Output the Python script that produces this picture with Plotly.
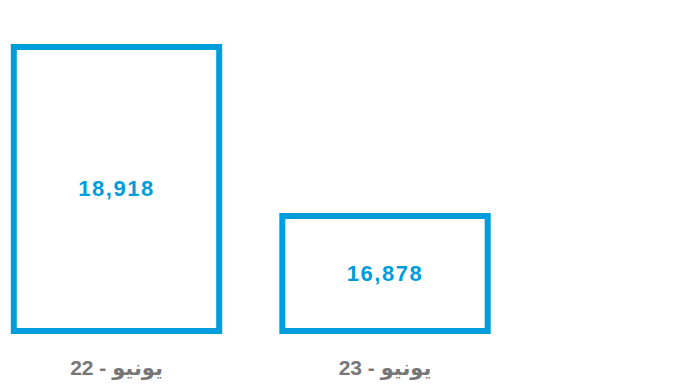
import plotly.graph_objects as go

# Monthly totals, June of each year
categories = ["يونيو - 22", "يونيو - 23"]
values = [18918, 16878]
axis_floor = 15490  # bars rise from this value rather than zero

BLUE = "#009ddc"
GRAY = "#777777"

fig = go.Figure(
    go.Bar(
        x=categories,
        y=[v - axis_floor for v in values],
        base=axis_floor,
        width=0.765,
        marker=dict(color="white", line=dict(color=BLUE, width=6)),
        text=[f"{v:,}" for v in values],
        textposition="inside",
        insidetextanchor="middle",
        textangle=0,
        constraintext="none",
        textfont=dict(family="Liberation Sans, Arial, sans-serif", size=22,
                      color=BLUE, weight="bold"),
        hoverinfo="skip",
    )
)

fig.update_layout(
    width=678,
    height=385,
    margin=dict(l=0, r=0, t=0, b=40),
    paper_bgcolor="white",
    plot_bgcolor="white",
    showlegend=False,
    xaxis=dict(
        range=[-0.4339, 2.0912],
        showgrid=False,
        zeroline=False,
        showline=False,
        ticks="",
        tickfont=dict(family="Liberation Sans, Arial, DejaVu Sans, sans-serif",
                      size=21, color=GRAY, weight="bold"),
        ticklabelstandoff=8,
    ),
    yaxis=dict(
        range=[15321, 19485],
        visible=False,
    ),
)

# widen the tracking of the value labels inside the bars
spacing_js = (
    "document.querySelectorAll('.bartext').forEach(function(t){"
    "t.style.letterSpacing='1.5px';});"
)

fig.write_html("out.html", post_script=spacing_js)
